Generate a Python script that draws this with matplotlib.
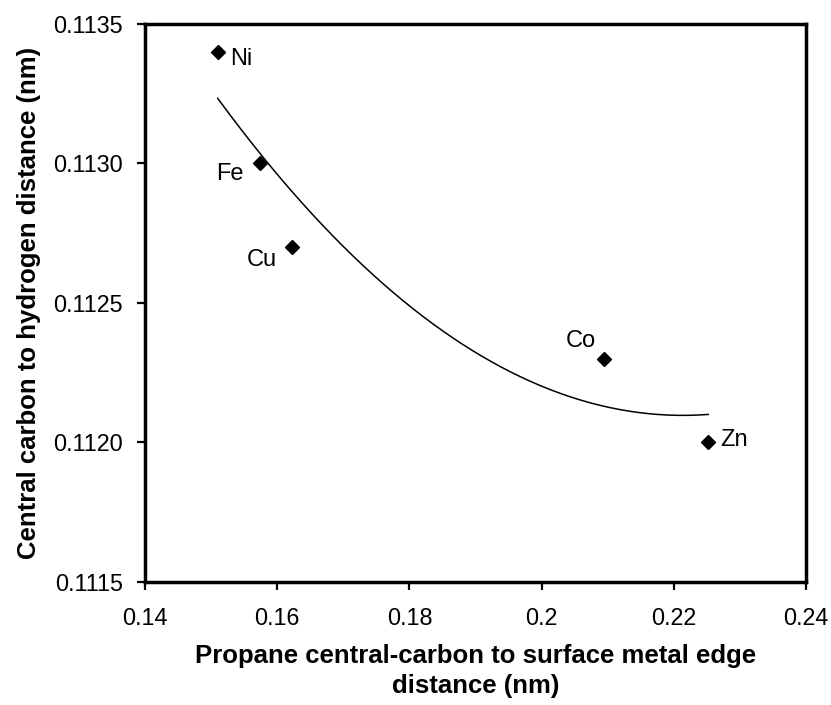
import matplotlib
matplotlib.use("Agg")
from matplotlib import pyplot as plt
import numpy as np

plt.rcParams['font.family'] = ['Liberation Sans', 'DejaVu Sans']

# data
metals = ['Ni', 'Fe', 'Cu', 'Co', 'Zn']
edge_dist = [0.1510, 0.1574, 0.1622, 0.2094, 0.2252]
ch_dist = [0.1134, 0.1130, 0.1127, 0.1123, 0.1120]
# label offsets in pixels (dx, dy)
label_off = [(24, -7), (-30, -11), (-30, -13), (-23, 18), (26, 2)]

x_ticks = [0.14, 0.16, 0.18, 0.2, 0.22, 0.24]
x_tick_labels = ['0.14', '0.16', '0.18', '0.2', '0.22', '0.24']
y_ticks = [0.1115, 0.1120, 0.1125, 0.1130, 0.1135]

fig = plt.figure(figsize=(8.31, 7.05), dpi=100)
ax = fig.add_axes([0.1745, 0.1745, 0.7955, 0.7915])

# 2nd order polynomial trendline, like excel
coef = np.polyfit(edge_dist, ch_dist, 2)
xx = np.linspace(min(edge_dist), max(edge_dist), 200)
ax.plot(xx, np.polyval(coef, xx), color='black', lw=1.1)

ax.plot(edge_dist, ch_dist, linestyle='none', marker='D', color='black', markersize=7.5)

for name, x, y, off in zip(metals, edge_dist, ch_dist, label_off):
    ax.annotate(name, (x, y), xytext=off, textcoords='offset pixels',
                ha='center', va='center', fontsize=17)

ax.set_xlim(0.14, 0.24)
ax.set_ylim(0.1115, 0.1135)
ax.set_xticks(x_ticks)
ax.set_xticklabels(x_tick_labels)
ax.set_yticks(y_ticks)
ax.set_yticklabels(['%.4f' % v for v in y_ticks])
ax.tick_params(direction='out', length=6, width=1.6, labelsize=16.8)
ax.tick_params(axis='x', pad=12)
ax.tick_params(axis='y', pad=10)

for sp in ax.spines.values():
    sp.set_linewidth(2.5)

ax.set_xlabel('Propane central-carbon to surface metal edge\ndistance (nm)',
              fontsize=18.5, fontweight='bold', labelpad=10, linespacing=1.3)
ax.set_ylabel('Central carbon to hydrogen distance (nm)', fontsize=18.5,
              fontweight='bold', labelpad=9)

fig.savefig('out.png', dpi=100)
